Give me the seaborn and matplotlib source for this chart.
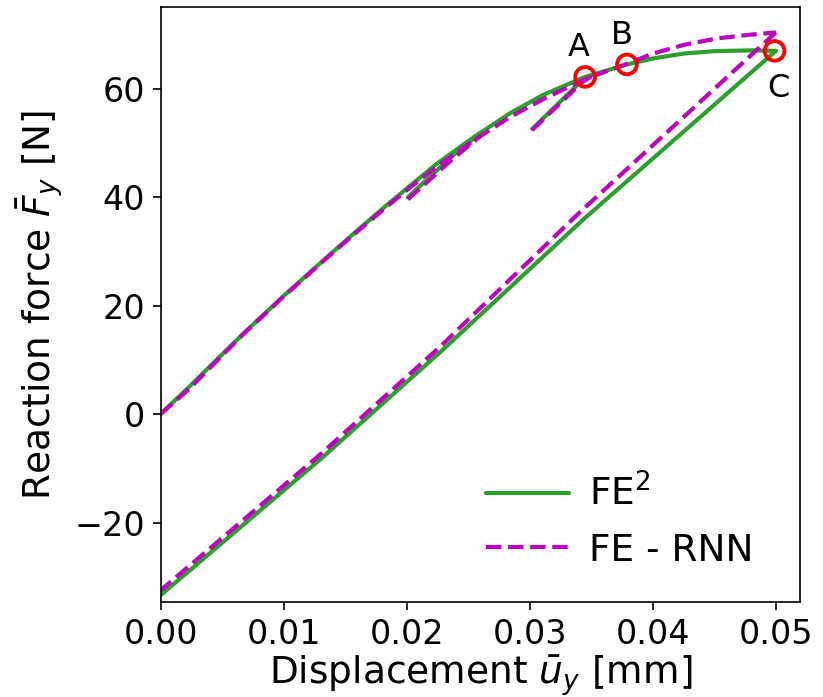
import matplotlib
matplotlib.use("Agg")
import matplotlib.pyplot as plt
import seaborn as sns
import pandas as pd
from matplotlib.lines import Line2D

# FE^2 reference response (displacement [mm], force [N])
fe2_load_u = [0.0, 0.0023, 0.0067, 0.0100, 0.0134, 0.0160, 0.0183, 0.0200, 0.0224,
              0.0254, 0.0284, 0.0311, 0.0345, 0.0379, 0.0400, 0.0425, 0.0450,
              0.0480, 0.0500]
fe2_load_f = [0.0, 5.0, 14.8, 21.8, 28.7, 33.9, 38.4, 41.6, 46.1,
              51.0, 55.5, 58.9, 62.2, 64.5, 65.6, 66.5, 66.95,
              67.1, 67.0]
fe2_unload_u = [0.0500, 0.0343, 0.0229, 0.0131, 0.0]
fe2_unload_f = [67.0, 35.8, 11.8, -8.1, -33.4]
fe2_rel1_u = [0.0201, 0.0237, 0.0260]
fe2_rel1_f = [40.0, 47.6, 51.9]
fe2_rel2_u = [0.0302, 0.0345]
fe2_rel2_f = [52.6, 62.1]

# FE - RNN surrogate response
rnn_load_u = [0.0, 0.0007, 0.0023, 0.0067, 0.0100, 0.0134, 0.0160, 0.0183, 0.0200,
              0.0224, 0.0254, 0.0284, 0.0311, 0.0345, 0.0379, 0.0400, 0.0425,
              0.0452, 0.0480, 0.0500]
rnn_load_f = [0.0, 1.4, 4.6, 14.7, 21.7, 28.6, 33.7, 38.1, 41.3,
              45.6, 50.4, 54.8, 58.1, 61.8, 64.6, 66.5, 68.1,
              69.3, 70.0, 70.4]
rnn_unload_u = [0.0500, 0.0341, 0.0227, 0.0131, 0.0]
rnn_unload_f = [70.4, 37.3, 12.4, -7.2, -32.5]
rnn_rel1_u = [0.0201, 0.0237, 0.0260]
rnn_rel1_f = [39.6, 47.0, 51.3]
rnn_rel2_u = [0.0302, 0.0343, 0.0350]
rnn_rel2_f = [52.4, 61.3, 62.3]

# Marked states
pt_names = ["A", "B", "C"]
pt_u = [0.0345, 0.0379, 0.0499]
pt_f = [62.2, 64.5, 67.0]

sns.set_style("ticks")
plt.rcParams["font.family"] = ["DejaVu Sans"]
plt.rcParams["mathtext.fontset"] = "dejavusans"
for key in ["text.color", "axes.labelcolor", "xtick.color", "ytick.color", "axes.edgecolor"]:
    plt.rcParams[key] = "black"

fig = plt.figure(figsize=(8.23, 6.97), dpi=100)
ax = fig.add_axes([0.1951, 0.1359, 0.7775, 0.8541])

green = "#2ca02c"
magenta = "#bf00bf"

def draw(u, f, **kw):
    df = pd.DataFrame({"u": u, "f": f})
    sns.lineplot(data=df, x="u", y="f", sort=False, estimator=None, ax=ax, **kw)

for u, f in [(fe2_load_u, fe2_load_f), (fe2_unload_u, fe2_unload_f),
             (fe2_rel1_u, fe2_rel1_f), (fe2_rel2_u, fe2_rel2_f)]:
    draw(u, f, color=green, linewidth=3, linestyle="-")

for u, f in [(rnn_load_u, rnn_load_f), (rnn_unload_u, rnn_unload_f),
             (rnn_rel1_u, rnn_rel1_f), (rnn_rel2_u, rnn_rel2_f)]:
    draw(u, f, color=magenta, linewidth=3, linestyle="--")

pts = pd.DataFrame({"u": pt_u, "f": pt_f})
sns.scatterplot(data=pts, x="u", y="f", ax=ax, s=200, facecolor="none",
                edgecolor="red", linewidth=2.8, zorder=5)

offsets = {"A": (-0.0005, 5.5), "B": (-0.0004, 5.4), "C": (0.0003, -6.9)}
for name, u, f in zip(pt_names, pt_u, pt_f):
    dx, dy = offsets[name]
    ax.text(u + dx, f + dy, name, fontsize=23, ha="center", va="center")

ax.set_xlim(0.0, 0.0520)
ax.set_ylim(-34.7, 75.1)
ax.set_xticks([0.0, 0.01, 0.02, 0.03, 0.04, 0.05])
ax.set_xticklabels(["0.00", "0.01", "0.02", "0.03", "0.04", "0.05"])
ax.set_yticks([-20, 0, 20, 40, 60])
ax.set_yticklabels(["\u221220", "0", "20", "40", "60"])
ax.tick_params(labelsize=24, length=6, width=1.2, pad=5)
for s in ax.spines.values():
    s.set_visible(True)
    s.set_linewidth(1.2)
    s.set_color("black")

ax.set_xlabel(r"Displacement $\bar{u}_y$ [mm]", fontsize=27, labelpad=2)
ax.set_ylabel(r"Reaction force $\bar{F}_y$ [N]", fontsize=27, labelpad=6)

handles = [Line2D([], [], color=green, lw=3, ls="-"),
           Line2D([], [], color=magenta, lw=3, ls="--")]
ax.legend(handles, [r"FE$^2$", "FE - RNN"], loc="lower right", fontsize=27,
          frameon=False, handlelength=2.2, handletextpad=0.55,
          borderaxespad=0.5, bbox_to_anchor=(0.98, 0.0))

fig.savefig("out.png", dpi=100)
